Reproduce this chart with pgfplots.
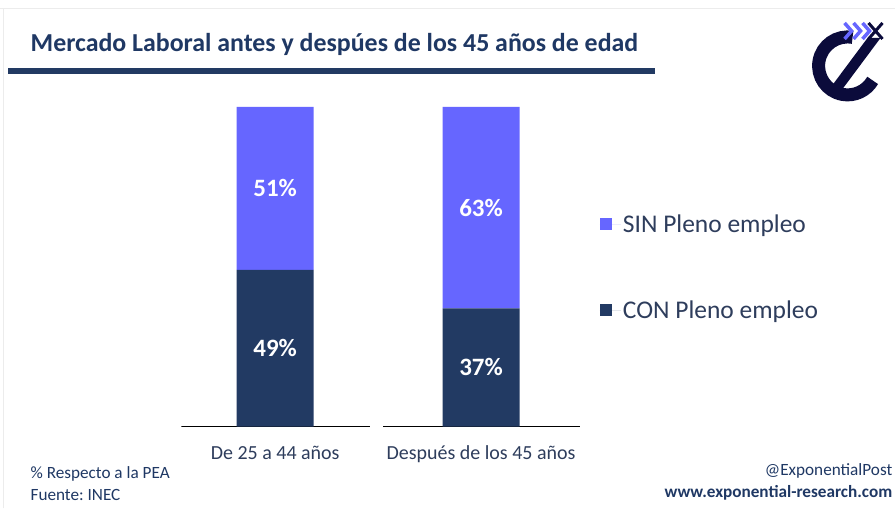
\documentclass[border=0pt]{standalone}
\usepackage{fontspec}
\setmainfont{Carlito}
\usepackage{pgfplots}
\pgfplotsset{compat=1.18}
\frenchspacing
\definecolor{navy}{HTML}{223A63}
\definecolor{lilac}{HTML}{6666FF}
\definecolor{titlec}{HTML}{1F3864}
\definecolor{txt}{HTML}{2E3D5C}
\definecolor{logo}{HTML}{0B0B3B}
\definecolor{baseline}{HTML}{D9DDE6}
\begin{document}
\begin{tikzpicture}[x=1pt,y=1pt]
\fill[white] (0,0) rectangle (895,509);
\draw[gray!15, line width=1pt] (0,500) -- (895,500);
\draw[gray!15, line width=1pt] (3,0) -- (3,500);
% title
\node[anchor=west, font=\bfseries\fontsize{25.9}{30}\selectfont, text=titlec, inner sep=0] at (30,464) {Mercado Laboral antes y despúes de los 45 años de edad};
\fill[navy] (8,435) rectangle (655,441);
% logo (decorative)
\draw[logo, line width=13pt] (848,443) ++(80:29) arc[start angle=80, end angle=330, radius=29];
\fill[logo] (868,471) -- (881,471) -- (843,420) -- (830,420) -- cycle;
\foreach \dx in {0,9,18}{\draw[lilac, line width=3.5pt] (845+\dx,486) -- (852+\dx,478) -- (845+\dx,470);}
\draw[logo, line width=3pt] (869,486) -- (883,470) (869,470) -- (883,486);
% bars
\begin{axis}[
  at={(181pt,82pt)}, anchor=south west, scale only axis,
  width=399pt, height=320pt,
  xmin=-0.456, xmax=1.48, ymin=0, ymax=100,
  ybar stacked, bar width=77pt,
  axis x line=bottom, axis y line=none,
  axis line style={draw=none}, xtick style={draw=none},
  xtick={0,1}, xticklabels={De 25 a 44 años, Después de los 45 años},
  xticklabel style={anchor=base, yshift=-31pt, font=\fontsize{20}{24}\selectfont, text=txt},
  ytick=\empty,
  reverse legend,
  legend style={at={(1.05,0.498)}, anchor=west, draw=none, fill=none, inner sep=0pt,
    font=\fontsize{25.5}{30}\selectfont, text=txt, row sep=63pt},
  legend cell align=left,
  legend image code/.code={\fill[#1] (0pt,-6pt) rectangle (12pt,6pt); \path (0pt,0pt) -- (21pt,0pt);},
]
\addplot[fill=navy, draw=none] coordinates {(0,49) (1,37)};
\addlegendentry{CON Pleno empleo}
\addplot[fill=lilac, draw=none] coordinates {(0,51) (1,63)};
\addlegendentry{SIN Pleno empleo}
\draw[baseline, line width=1pt] (axis cs:-0.456,0) -- (axis cs:0.461,0);
\draw[baseline, line width=1pt] (axis cs:0.524,0) -- (axis cs:1.48,0);
\end{axis}
% value labels
\begin{axis}[
  at={(181pt,82pt)}, anchor=south west, scale only axis,
  width=399pt, height=320pt,
  xmin=-0.456, xmax=1.48, ymin=0, ymax=100, hide axis,
]
\addplot[draw=none, mark=none, nodes near coords, point meta=explicit symbolic,
  every node near coord/.append style={anchor=center, font=\bfseries\fontsize{25}{30}\selectfont, text=white}]
  coordinates {(0,24.5) [49\%] (0,74.5) [51\%] (1,18.5) [37\%] (1,68.5) [63\%]};
\end{axis}
% footer
\node[anchor=west, font=\fontsize{17.2}{20}\selectfont, text=titlec, inner sep=0] at (30,35) {\% Respecto a la PEA};
\node[anchor=west, font=\fontsize{17.2}{20}\selectfont, text=titlec, inner sep=0] at (30,13) {Fuente: INEC};
\node[anchor=east, font=\fontsize{17.2}{20}\selectfont, text=titlec, inner sep=0] at (893,38) {@ExponentialPost};
\node[anchor=east, font=\bfseries\fontsize{17.2}{20}\selectfont, text=titlec, inner sep=0] at (893,16) {www.exponential-research.com};
\end{tikzpicture}
\end{document}
